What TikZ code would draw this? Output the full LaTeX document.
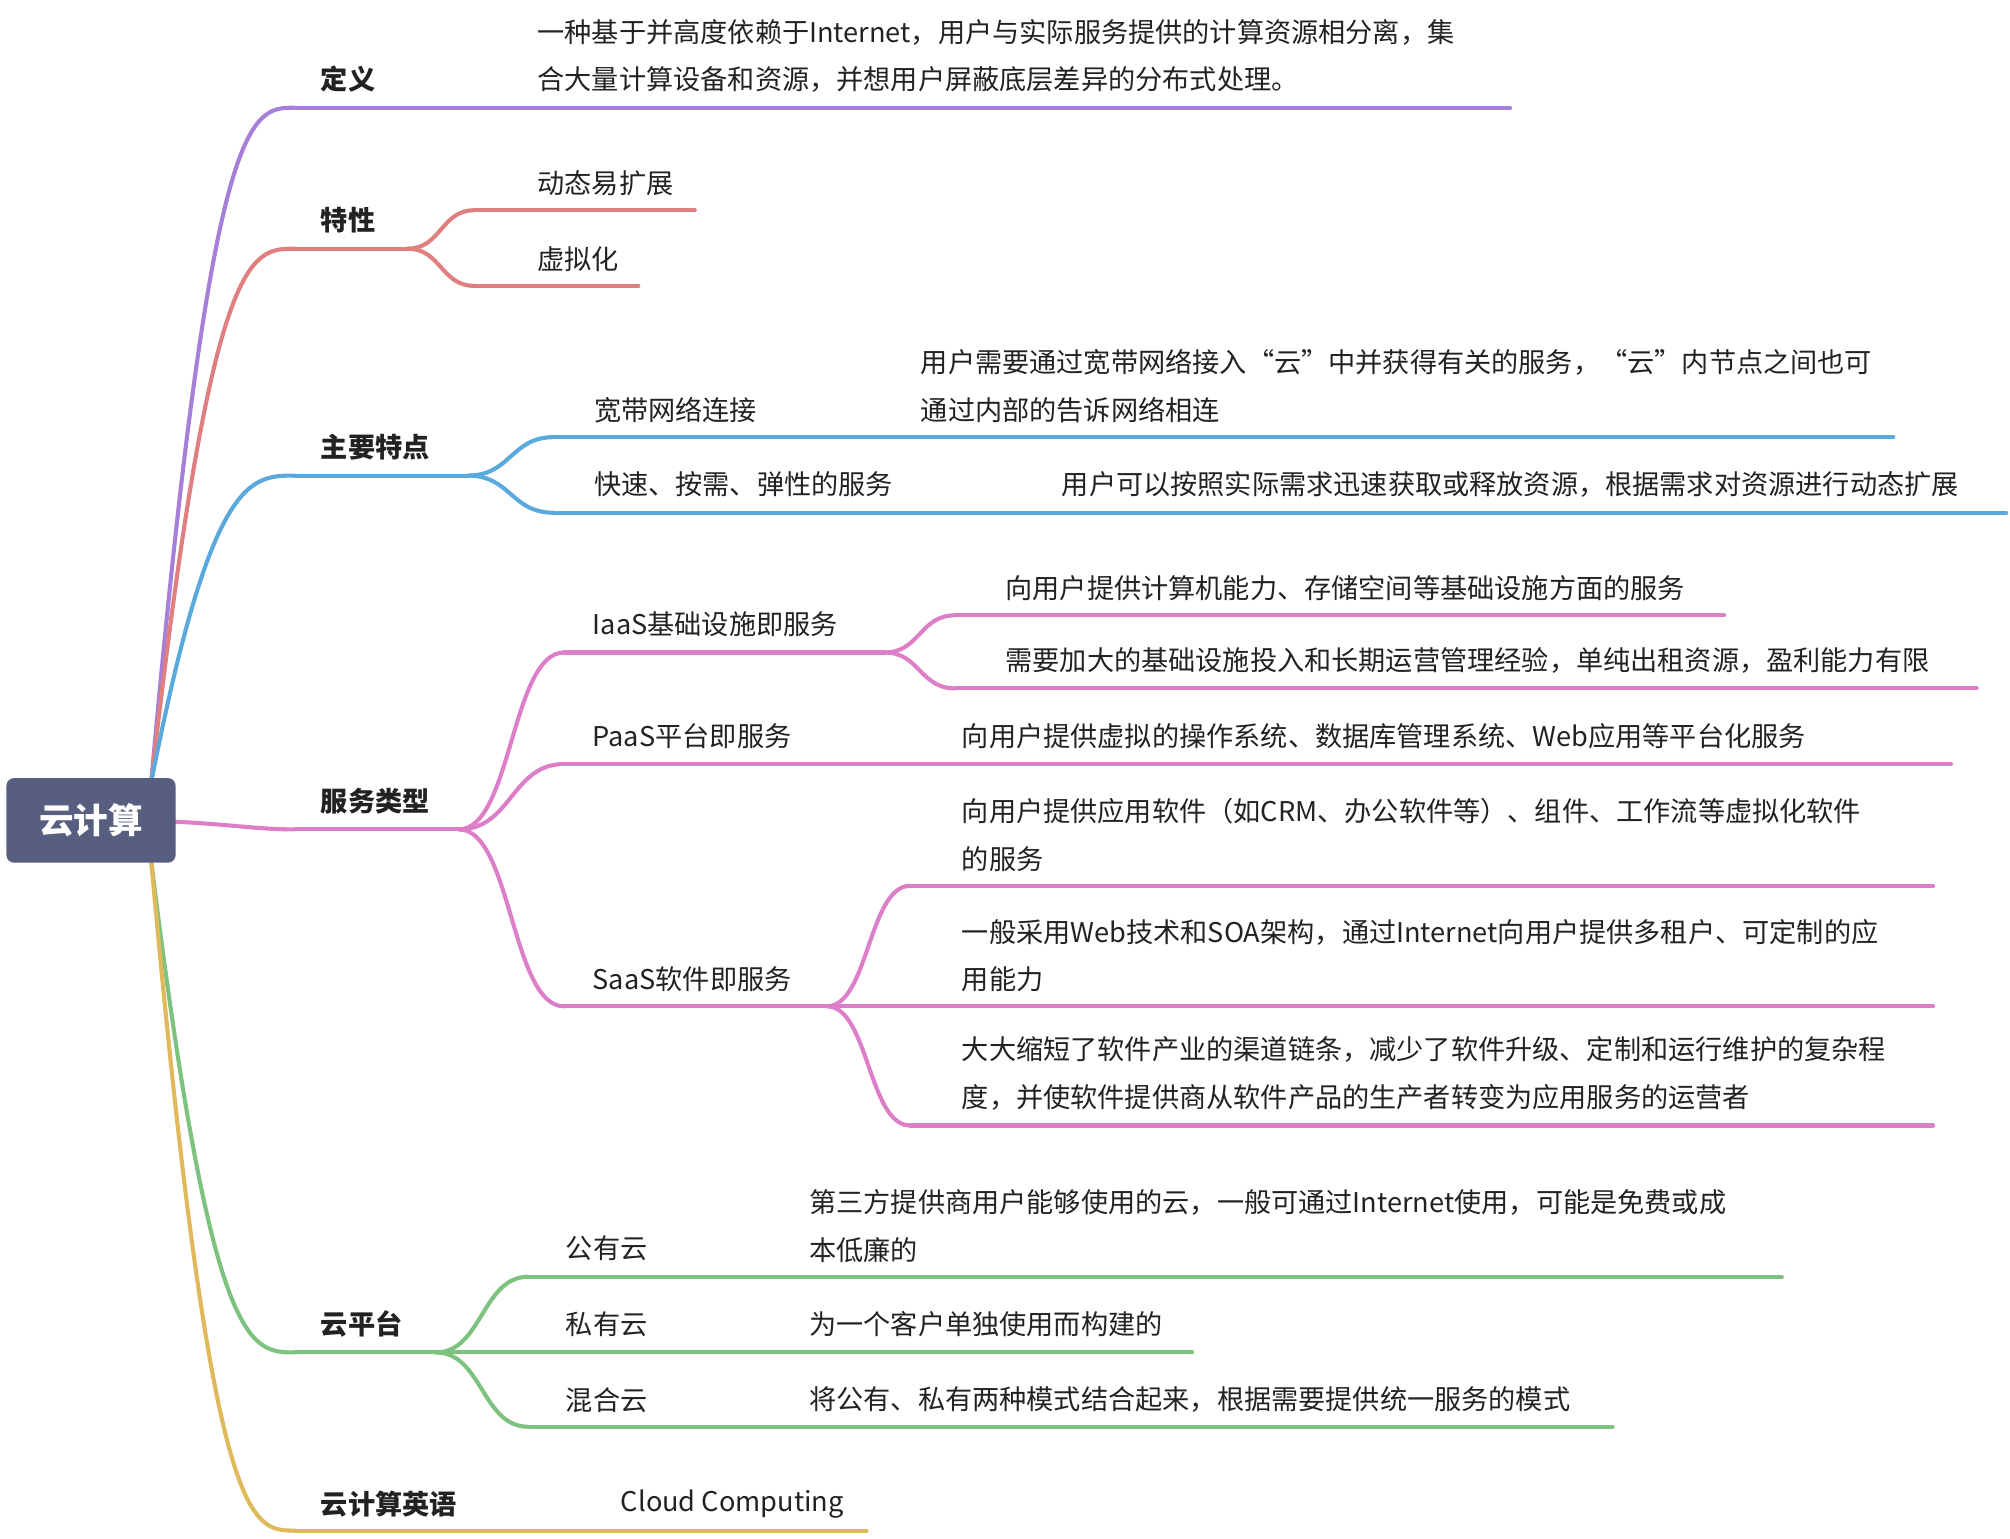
\documentclass[tikz,border=0pt]{standalone}
\usepackage{fontspec}
\setmainfont{Noto Sans CJK SC}
\definecolor{cpur}{HTML}{A57FD8}
\definecolor{cred}{HTML}{E07F7F}
\definecolor{cblu}{HTML}{5AA9DD}
\definecolor{cpin}{HTML}{DD7FC8}
\definecolor{cgrn}{HTML}{7DC37F}
\definecolor{cyel}{HTML}{E0B95A}
\definecolor{croot}{HTML}{575E80}
\definecolor{ctxt}{HTML}{222222}
\tikzset{
 br/.style={line width=1.6pt,line cap=round},
 lab/.style={anchor=west,inner sep=0pt,font=\fontsize{10.6}{13}\selectfont,text=ctxt},
 l1/.style={lab,font=\fontsize{10.6}{13}\selectfont\bfseries},
}
\newcommand{\rootc}[3]{\draw[br,#1] (#2) .. controls (165,#3) and (195,#3) .. (230,#3);}
\newcommand{\subc}[5]{\draw[br,#1] (#2,#3) .. controls ({(#2+#4)/2},#3) and ({(#2+#4)/2},#5) .. (#4,#5);}
\begin{document}
\begin{tikzpicture}[x=0.5pt,y=-0.5pt]
\useasboundingbox (0,0) rectangle (1568,1200);
\coordinate (rt) at (118,610);
\coordinate (rb) at (118,672);
% root branches
\rootc{cpur}{rt}{84}
\rootc{cred}{rt}{194}
\rootc{cblu}{rt}{371}
\draw[br,cpin] (136,641) .. controls (180,643) and (200,647) .. (230,647);
\rootc{cgrn}{rb}{1055}
\rootc{cyel}{rb}{1194}
\node[fill=croot,rounded corners=3pt,minimum width=66pt,minimum height=33pt,text=white,font=\fontsize{13.5}{16}\selectfont\bfseries] (root) at (71,640) {云计算};
% 定义
\draw[br,cpur] (230,84) -- (1178,84);
\node[l1] (d) at (250,62) {定义};
\node[lab] (d1) at (419,25) {一种基于并高度依赖于Internet，用户与实际服务提供的计算资源相分离，集};
\node[lab] (d2) at (419,62) {合大量计算设备和资源，并想用户屏蔽底层差异的分布式处理。};
% 特性
\draw[br,cred] (230,194) -- (318,194);
\subc{cred}{318}{194}{370}{164}
\subc{cred}{318}{194}{370}{223}
\draw[br,cred] (370,164) -- (542,164);
\draw[br,cred] (370,223) -- (498,223);
\node[l1] (t) at (250,172) {特性};
\node[lab] (t1) at (419,143) {动态易扩展};
\node[lab] (t2) at (419,202) {虚拟化};
% 主要特点
\draw[br,cblu] (230,371) -- (365,371);
\subc{cblu}{365}{371}{432}{341}
\subc{cblu}{365}{371}{432}{400}
\draw[br,cblu] (432,341) -- (1477,341);
\draw[br,cblu] (432,400) -- (1565,400);
\node[l1] (z) at (250,349) {主要特点};
\node[lab] (z1) at (463,320) {宽带网络连接};
\node[lab] (z1a) at (718,283) {用户需要通过宽带网络接入“云”中并获得有关的服务，“云”内节点之间也可};
\node[lab] (z1b) at (718,320) {通过内部的告诉网络相连};
\node[lab] (z2) at (463,378) {快速、按需、弹性的服务};
\node[lab] (z2a) at (828,378) {用户可以按照实际需求迅速获取或释放资源，根据需求对资源进行动态扩展};
% 服务类型
\draw[br,cpin] (230,647) -- (358,647);
\subc{cpin}{358}{647}{440}{509}
\subc{cpin}{358}{647}{440}{596}
\subc{cpin}{358}{647}{440}{785}
\draw[br,cpin] (440,509) -- (690,509);
\subc{cpin}{690}{509}{745}{480}
\subc{cpin}{690}{509}{745}{537}
\draw[br,cpin] (745,480) -- (1345,480);
\draw[br,cpin] (745,537) -- (1542,537);
\draw[br,cpin] (440,596) -- (1522,596);
\draw[br,cpin] (440,785) -- (645,785);
\subc{cpin}{645}{785}{710}{691}
\subc{cpin}{645}{785}{710}{878}
\draw[br,cpin] (645,785) -- (1508,785);
\draw[br,cpin] (710,691) -- (1508,691);
\draw[br,cpin] (710,878) -- (1508,878);
\node[l1] (s) at (250,625) {服务类型};
\node[lab] (s1) at (462,487) {IaaS基础设施即服务};
\node[lab] (s1a) at (784,459) {向用户提供计算机能力、存储空间等基础设施方面的服务};
\node[lab] (s1b) at (784,515) {需要加大的基础设施投入和长期运营管理经验，单纯出租资源，盈利能力有限};
\node[lab] (s2) at (462,574) {PaaS平台即服务};
\node[lab] (s2a) at (750,574) {向用户提供虚拟的操作系统、数据库管理系统、Web应用等平台化服务};
\node[lab] (s3) at (462,764) {SaaS软件即服务};
\node[lab] (s3a) at (750,633) {向用户提供应用软件（如CRM、办公软件等）、组件、工作流等虚拟化软件};
\node[lab] (s3b) at (750,670) {的服务};
\node[lab] (s3c) at (750,727) {一般采用Web技术和SOA架构，通过Internet向用户提供多租户、可定制的应};
\node[lab] (s3d) at (750,764) {用能力};
\node[lab] (s3e) at (750,819) {大大缩短了软件产业的渠道链条，减少了软件升级、定制和运行维护的复杂程};
\node[lab] (s3f) at (750,856) {度，并使软件提供商从软件产品的生产者转变为应用服务的运营者};
% 云平台
\draw[br,cgrn] (230,1055) -- (340,1055);
\subc{cgrn}{340}{1055}{412}{996}
\subc{cgrn}{340}{1055}{412}{1113}
\draw[br,cgrn] (340,1055) -- (930,1055);
\draw[br,cgrn] (412,996) -- (1390,996);
\draw[br,cgrn] (412,1113) -- (1258,1113);
\node[l1] (p) at (250,1033) {云平台};
\node[lab] (p1) at (441,974) {公有云};
\node[lab] (p1a) at (631,938) {第三方提供商用户能够使用的云，一般可通过Internet使用，可能是免费或成};
\node[lab] (p1b) at (631,975) {本低廉的};
\node[lab] (p2) at (441,1033) {私有云};
\node[lab] (p2a) at (631,1033) {为一个客户单独使用而构建的};
\node[lab] (p3) at (441,1092) {混合云};
\node[lab] (p3a) at (631,1092) {将公有、私有两种模式结合起来，根据需要提供统一服务的模式};
% 英语
\draw[br,cyel] (230,1194) -- (676,1194);
\node[l1] (e) at (250,1173) {云计算英语};
\node[lab] (e1) at (484,1173) {Cloud Computing};
\end{tikzpicture}
\end{document}
